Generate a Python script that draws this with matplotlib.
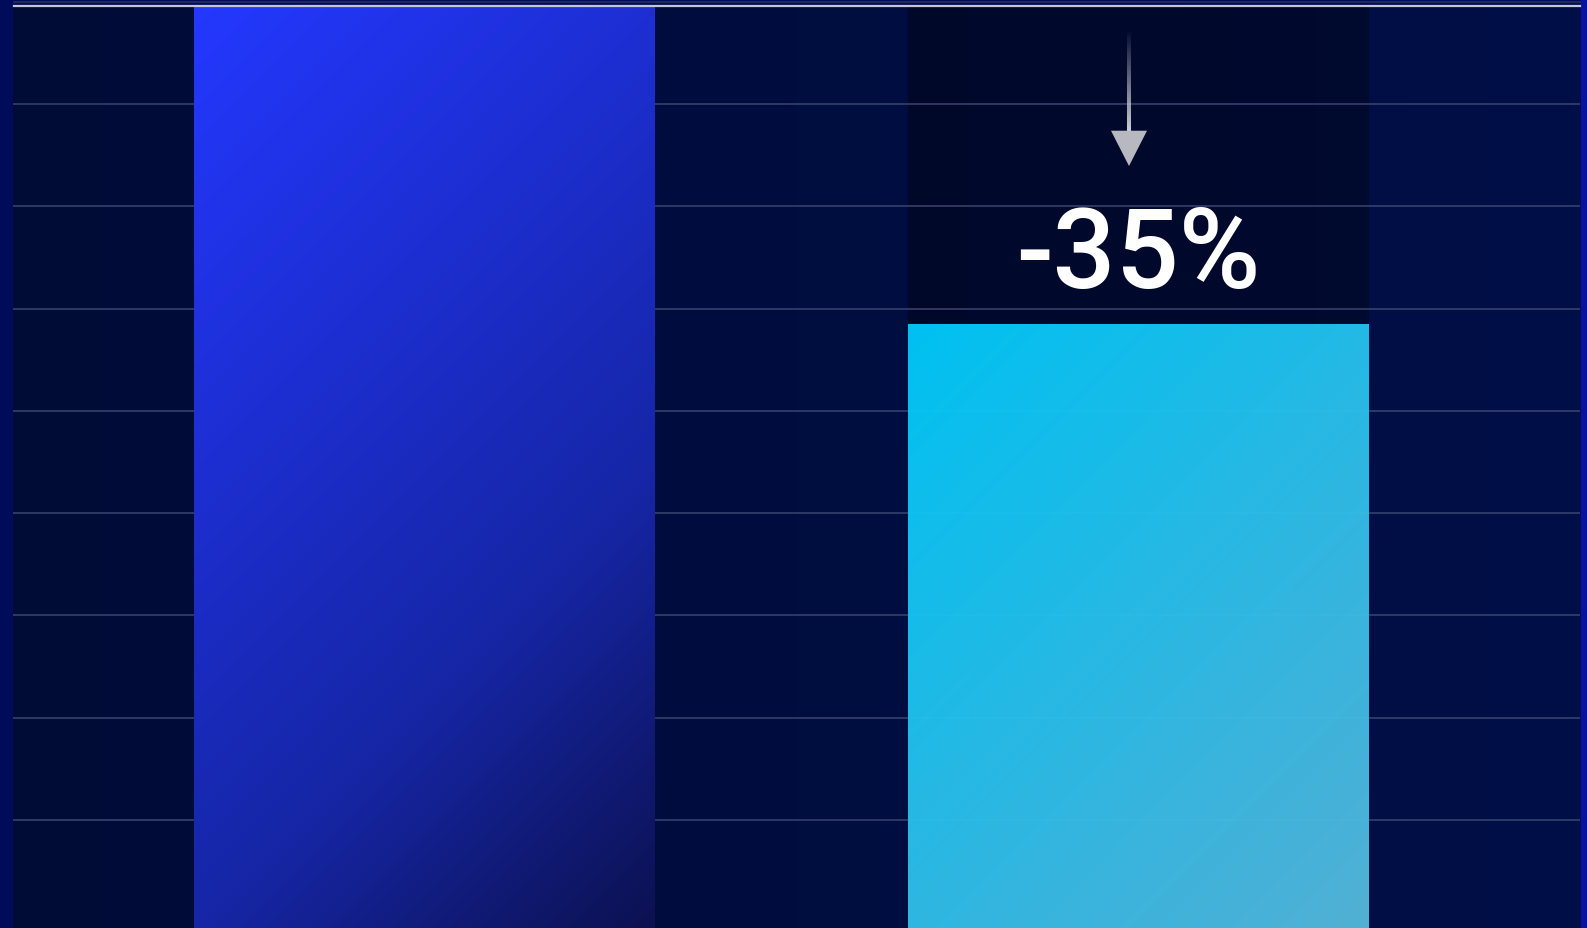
import numpy as np
import matplotlib
matplotlib.use("Agg")
import matplotlib.pyplot as plt
from matplotlib.patches import Rectangle, Polygon
from matplotlib.collections import LineCollection
from matplotlib.lines import Line2D
from matplotlib.colors import to_rgb

# ---- data ----
categories = ["Before", "After"]
values = [100, 65]
grid_values = [11.65, 22.65, 33.65, 44.65, 55.65, 66.65, 77.65, 88.65]

W, H = 1587, 929
fig = plt.figure(figsize=(W / 100, H / 100), dpi=100)
fig.patch.set_facecolor("#000C5A")

# right edge strip
fig.add_artist(Rectangle((1581 / W, 0), 6 / W, 1, transform=fig.transFigure,
                         facecolor="#0712A0", edgecolor="none", zorder=0))

ax = fig.add_axes([13 / W, 0, (1580 - 13) / W, (929 - 7) / H])
x = np.arange(len(categories))
bar_w = 0.644
ax.set_xlim(-0.5752, 1.6179)
ax.set_ylim(0, 99.22)
for s in ax.spines.values():
    s.set_visible(False)
ax.set_xticks([])
ax.set_yticks([])

# axes background: subtle horizontal gradient
bg0, bg1 = np.array(to_rgb("#000B36")), np.array(to_rgb("#000F48"))
tt = np.linspace(0, 1, 256)
bg = bg0[None, None, :] * (1 - tt[None, :, None]) + bg1[None, None, :] * tt[None, :, None]
ax.imshow(bg, extent=[0, 1, 0, 1], transform=ax.transAxes, aspect="auto", zorder=0)

ytop = ax.get_ylim()[1]

# shaded area above second bar
ax.add_patch(Rectangle((x[1] - bar_w / 2, values[1]), bar_w, ytop - values[1],
                       facecolor="black", alpha=0.33, edgecolor="none", zorder=1))

# gridlines
for g in grid_values:
    ax.axhline(g, color="#3A4570", lw=1.1, zorder=2)

def ramp(stops, t):
    pos = [p for p, _ in stops]
    cols = np.array([to_rgb(c) for _, c in stops])
    return np.stack([np.interp(t, pos, cols[:, k]) for k in range(3)], axis=-1)

bar_stops = [
    [(0.0, "#2438FF"), (0.67, "#1626A6"), (1.0, "#0C1150")],
    [(0.0, "#00CAFB"), (1.0, "#56B8DC")],
]
bar_alpha = [1.0, 0.96]

bars = ax.bar(x, values, bar_w, color="none", edgecolor="none", zorder=3)
fig.canvas.draw()
for i, b in enumerate(bars):
    x0, x1 = b.get_x(), b.get_x() + b.get_width()
    top = min(b.get_height(), ytop)
    p0 = ax.transData.transform((x0, 0))
    p1 = ax.transData.transform((x1, top))
    wpx, hpx = abs(p1[0] - p0[0]), abs(p1[1] - p0[1])
    u = np.linspace(0, wpx, 300)
    v = np.linspace(0, hpx, 600)
    T = (u[None, :] + v[:, None]) / (wpx + hpx)
    img = ramp(bar_stops[i], T)
    im = ax.imshow(img, extent=[x0, x1, 0, top], origin="upper", aspect="auto",
                   zorder=3, alpha=bar_alpha[i], interpolation="bilinear")
    im.set_clip_path(b)

ax.set_xlim(-0.5752, 1.6179)
ax.set_ylim(0, 99.22)

# change label
change = values[1] / values[0] - 1
ax.text(x[1], values[1] + 4.0, f"{change * 100:.0f}%", ha="center", va="baseline",
        color="white", fontsize=80, fontfamily="Roboto", fontweight="medium", zorder=6)

# arrow with fading shaft
ax_x = x[1] - 0.0133
shaft_top, shaft_bot = values[1] + 31.75, values[1] + 20.8
n = 60
ys = np.linspace(shaft_top, shaft_bot, n + 1)
segs = [[(ax_x, ys[k]), (ax_x, ys[k + 1])] for k in range(n)]
alphas = np.linspace(0.0, 1.0, n)
cols = [(0.80, 0.80, 0.84, a) for a in alphas]
ax.add_collection(LineCollection(segs, colors=cols, linewidths=2.9, zorder=5))
hw = 0.0252
ax.add_patch(Polygon([(ax_x - hw, shaft_bot), (ax_x + hw, shaft_bot), (ax_x, values[1] + 17.0)],
                     closed=True, facecolor="#B8B8C0", edgecolor="none", zorder=5))

# top border lines
fig.add_artist(Line2D([14 / W, 1580 / W], [1 - 2.5 / H, 1 - 2.5 / H], color="#1E2A58",
                      lw=1.4, transform=fig.transFigure))
fig.add_artist(Line2D([14 / W, 1580 / W], [1 - 6.5 / H, 1 - 6.5 / H], color="#C4C6D2",
                      lw=1.6, transform=fig.transFigure))

fig.savefig("out.png", dpi=100, facecolor=fig.get_facecolor())
